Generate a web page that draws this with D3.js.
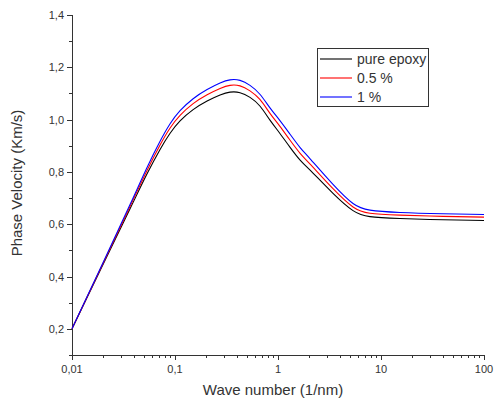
<!DOCTYPE html>
<html>
<head>
<meta charset="utf-8">
<script src="https://cdn.jsdelivr.net/npm/d3@7"></script>
<style>
  body { margin: 0; background: #fff; }
  text { font-family: "Liberation Sans", Arial, sans-serif; fill: #333; }
</style>
</head>
<body>
<svg id="chart" width="494" height="406"></svg>
<script>
"use strict";

// wave number (1/nm)
var waveNumbers = [0.01, 0.02, 0.0367, 0.0531, 0.0714, 0.0893, 0.112, 0.15, 0.205, 0.274, 0.342, 0.428, 0.535, 0.667, 0.836, 1.04, 1.31, 1.64, 2.05, 3.42, 5.35, 7.82, 15.3, 40, 100];
// phase velocity (Km/s)
var pureEpoxy = [0.2, 0.446, 0.66, 0.79, 0.885, 0.947, 0.995, 1.038, 1.071, 1.094, 1.105, 1.103, 1.085, 1.052, 0.998, 0.948, 0.894, 0.845, 0.807, 0.718, 0.652, 0.629, 0.622, 0.617, 0.614];
var half = [0.2, 0.45, 0.669, 0.803, 0.902, 0.967, 1.016, 1.061, 1.095, 1.119, 1.131, 1.129, 1.11, 1.077, 1.024, 0.975, 0.921, 0.871, 0.83, 0.736, 0.666, 0.642, 0.635, 0.63, 0.627];
var one = [0.2, 0.453, 0.676, 0.814, 0.916, 0.983, 1.034, 1.08, 1.115, 1.14, 1.152, 1.15, 1.131, 1.097, 1.045, 0.997, 0.944, 0.893, 0.85, 0.752, 0.679, 0.654, 0.645, 0.64, 0.637];

var seriesNames = ["pure epoxy", "0.5 %", "1 %"];
var seriesColors = ["#000000", "#ff0000", "#0000ff"];
var xTickLabels = ["0,01", "0,1", "1", "10", "100"];

var svg = d3.select("#chart");
var plotLeft = 72, plotRight = 484, plotTop = 15, plotBottom = 355;

var x = d3.scaleLog().domain([0.01, 100]).range([plotLeft, plotRight]);
var y = d3.scaleLinear().domain([0.1, 1.4]).range([plotBottom, plotTop]);

// y axis
var yMajor = d3.range(0.2, 1.41, 0.2);
var yMinor = d3.range(0.1, 1.41, 0.2);
var yAxis = svg.append("g").attr("transform", "translate(" + plotLeft + ",0)");
yAxis.append("line").attr("x1", 0.5).attr("x2", 0.5).attr("y1", plotBottom).attr("y2", y(1.4))
  .attr("stroke", "#333");
yAxis.selectAll(".maj").data(yMajor).enter().append("line")
  .attr("x1", -5).attr("x2", 0)
  .attr("y1", function(d) { return Math.round(y(d)) + 0.5; })
  .attr("y2", function(d) { return Math.round(y(d)) + 0.5; })
  .attr("stroke", "#333");
yAxis.selectAll(".min").data(yMinor).enter().append("line")
  .attr("x1", -3).attr("x2", 0)
  .attr("y1", function(d) { return Math.round(y(d)) + 0.5; })
  .attr("y2", function(d) { return Math.round(y(d)) + 0.5; })
  .attr("stroke", "#333");
yAxis.selectAll("text").data(yMajor).enter().append("text")
  .attr("x", -8).attr("y", function(d) { return y(d) + 4; })
  .attr("text-anchor", "end").attr("font-size", 11)
  .text(function(d) { return d3.format(".1f")(d).replace(".", ","); });

// x axis
var xMajor = [0.01, 0.1, 1, 10, 100];
var xMinor = [];
xMajor.slice(0, 4).forEach(function(m) {
  for (var i = 2; i < 10; i++) xMinor.push(m * i);
});
var xAxis = svg.append("g").attr("transform", "translate(0," + plotBottom + ")");
xAxis.append("line").attr("x1", plotLeft).attr("x2", plotRight).attr("y1", 0.5).attr("y2", 0.5)
  .attr("stroke", "#333");
xAxis.selectAll(".maj").data(xMajor).enter().append("line")
  .attr("x1", function(d) { return Math.round(x(d)) + 0.5; })
  .attr("x2", function(d) { return Math.round(x(d)) + 0.5; })
  .attr("y1", 0).attr("y2", 5).attr("stroke", "#333");
xAxis.selectAll(".min").data(xMinor).enter().append("line")
  .attr("x1", function(d) { return Math.round(x(d)) + 0.5; })
  .attr("x2", function(d) { return Math.round(x(d)) + 0.5; })
  .attr("y1", 0).attr("y2", 3).attr("stroke", "#333");
xAxis.selectAll("text").data(xMajor).enter().append("text")
  .attr("x", function(d) { return x(d); }).attr("y", 18)
  .attr("text-anchor", "middle").attr("font-size", 11)
  .text(function(d, i) { return xTickLabels[i]; });

// axis titles
svg.append("text")
  .attr("transform", "translate(22,183) rotate(-90)")
  .attr("text-anchor", "middle").attr("font-size", 15)
  .text("Phase Velocity (Km/s)");
svg.append("text")
  .attr("x", 273).attr("y", 395)
  .attr("text-anchor", "middle").attr("font-size", 15)
  .text("Wave number (1/nm)");

// curves
var allSeries = [pureEpoxy, half, one];
var line = d3.line()
  .x(function(d) { return x(d[0]); })
  .y(function(d) { return y(d[1]); })
  .curve(d3.curveNatural);

allSeries.forEach(function(vals, i) {
  svg.append("path")
    .datum(d3.zip(waveNumbers, vals))
    .attr("fill", "none")
    .attr("stroke", seriesColors[i])
    .attr("stroke-width", 1.1)
    .attr("d", line);
});

// legend
var legend = svg.append("g").attr("transform", "translate(317,48)");
legend.append("rect").attr("x", 0.5).attr("y", 0.5).attr("width", 111).attr("height", 58)
  .attr("fill", "#fff").attr("stroke", "#333");
seriesNames.forEach(function(name, i) {
  var ly = 11 + i * 19;
  legend.append("line").attr("x1", 3).attr("x2", 35).attr("y1", ly).attr("y2", ly)
    .attr("stroke", seriesColors[i]).attr("stroke-width", 1.1);
  legend.append("text").attr("x", 40).attr("y", ly + 5).attr("font-size", 14)
    .text(name);
});
</script>
</body>
</html>
